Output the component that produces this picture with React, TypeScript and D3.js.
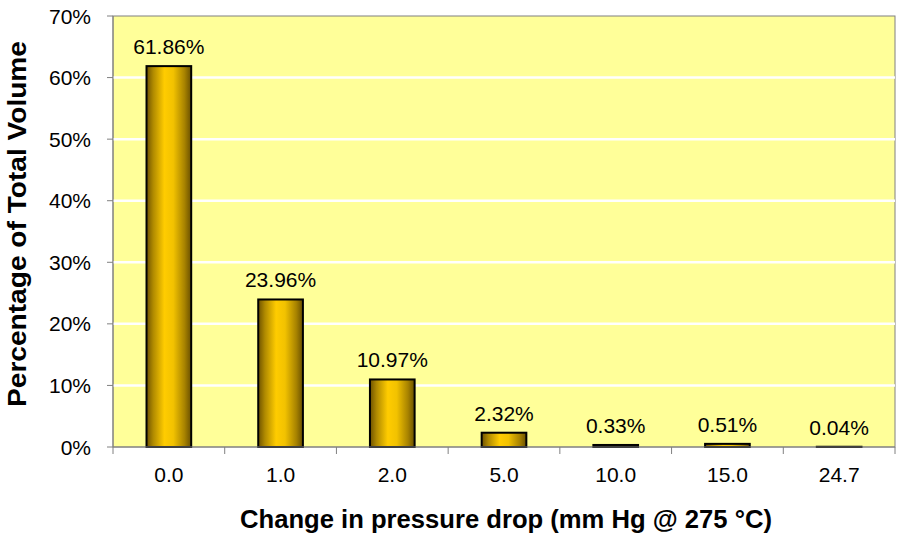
import React from "react";
import * as d3 from "d3";

const categories = ["0.0", "1.0", "2.0", "5.0", "10.0", "15.0", "24.7"];
const values = [61.86, 23.96, 10.97, 2.32, 0.33, 0.51, 0.04];
const yTicks = [0, 10, 20, 30, 40, 50, 60, 70];

export default function App() {
  const W = 900, H = 537;
  const left = 113, right = 895, top = 16, bottom = 447;
  const x = d3.scaleBand<string>().domain(categories).range([left, right]).paddingInner(0).paddingOuter(0);
  const y = d3.scaleLinear().domain([0, 70]).range([bottom, top]);
  const bw = x.bandwidth() * 0.4;
  const font = "'Liberation Sans', Arial, sans-serif";
  return (
    <svg width={W} height={H} style={{ position: "absolute", left: 0, top: 0 }}>
      <defs>
        <linearGradient id="barGrad" x1="0" x2="1" y1="0" y2="0">
          <stop offset="0%" stopColor="#6e5200" />
          <stop offset="15%" stopColor="#b08a00" />
          <stop offset="40%" stopColor="#ffcc00" />
          <stop offset="60%" stopColor="#f2c200" />
          <stop offset="85%" stopColor="#a88300" />
          <stop offset="100%" stopColor="#6a5000" />
        </linearGradient>
      </defs>
      <rect x={0} y={0} width={W} height={H} fill="#ffffff" />
      <rect x={left} y={top} width={right - left} height={bottom - top} fill="#ffff99" stroke="#808080" strokeWidth={1} />
      {yTicks.filter(t => t > 0 && t < 70).map(t => (
        <line key={t} x1={left} x2={right} y1={y(t)} y2={y(t)} stroke="#ffffff" strokeWidth={2.5} />
      ))}
      {values.map((v, i) => {
        const cx = x(categories[i])! + x.bandwidth() / 2;
        return (
          <g key={i}>
            <rect x={cx - bw / 2} y={y(v)} width={bw} height={bottom - y(v)} fill="url(#barGrad)" stroke="#000" strokeWidth={2} />
            <text x={cx} y={y(v) - 12} textAnchor="middle" fontFamily={font} fontSize={21} fill="#000">
              {v.toFixed(2)}%
            </text>
          </g>
        );
      })}
      <line x1={left} x2={left} y1={top} y2={bottom} stroke="#808080" strokeWidth={1} />
      <line x1={left} x2={right} y1={bottom} y2={bottom} stroke="#808080" strokeWidth={1} />
      {yTicks.map(t => (
        <g key={t}>
          <line x1={left - 6} x2={left} y1={y(t)} y2={y(t)} stroke="#808080" />
          <text x={91} y={y(t) + 7.5} textAnchor="end" fontFamily={font} fontSize={21}>{t}%</text>
        </g>
      ))}
      {d3.range(categories.length + 1).map(i => {
        const xx = left + i * x.bandwidth();
        return <line key={i} x1={xx} x2={xx} y1={bottom} y2={bottom + 7} stroke="#808080" />;
      })}
      {categories.map(c => (
        <text key={c} x={x(c)! + x.bandwidth() / 2} y={482} textAnchor="middle" fontFamily={font} fontSize={21}>{c}</text>
      ))}
      <text x={506} y={528} textAnchor="middle" fontFamily={font} fontSize={25} fontWeight="bold" textLength={532} lengthAdjust="spacingAndGlyphs">
        Change in pressure drop (mm Hg @ 275 °C)
      </text>
      <text transform={`translate(26,224) rotate(-90)`} textAnchor="middle" fontFamily={font} fontSize={25} fontWeight="bold" textLength={366} lengthAdjust="spacingAndGlyphs">
        Percentage of Total Volume
      </text>
    </svg>
  );
}
